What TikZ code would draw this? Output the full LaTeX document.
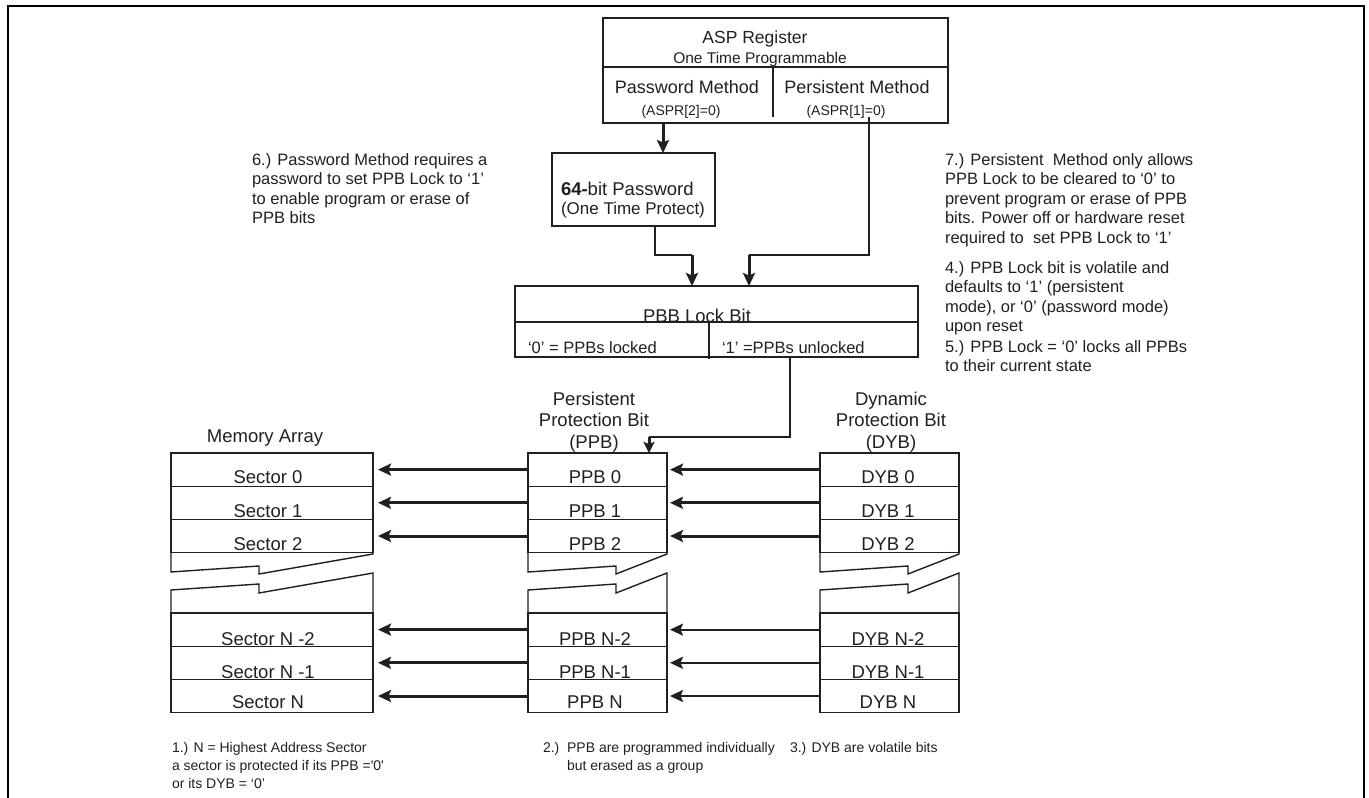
\documentclass[tikz,border=0pt]{standalone}
\usepackage{fontspec}
\newfontfamily\af{Liberation Sans}
\usetikzlibrary{arrows.meta}
\definecolor{ink}{HTML}{231F20}
\begin{document}
\begin{tikzpicture}[x=1pt,y=-1pt,
  every node/.style={inner sep=0pt, outer sep=0pt, text=ink},
  box/.style={draw=ink, line width=1.4pt, rectangle},
  cell/.style={box, minimum height=33.2pt},
  memcell/.style={cell, minimum width=202pt},
  bitcell/.style={cell, minimum width=139pt},
  ln/.style={draw=ink, line width=1.3pt},
  brk/.style={draw=ink, line width=1.4pt},
  arr/.style={draw=ink, line width=3pt, -{Stealth[length=13pt,width=12pt,inset=2.5pt]}},
  arrt/.style={draw=ink, line width=2.2pt, -{Stealth[length=13pt,width=12pt,inset=2.5pt]}},
  arrs/.style={draw=ink, line width=3pt, -{Stealth[length=11pt,width=11pt,inset=2pt]}},
  lbl/.style={anchor=base},
  f185/.style={font=\af\fontsize{18.5}{22}\selectfont},
  hdr/.style={font=\af\fontsize{18.5}{21.5}\selectfont},
  f18/.style={font=\af\fontsize{18}{21}\selectfont},
  f175/.style={font=\af\fontsize{17.5}{21}\selectfont},
  f17/.style={font=\af\fontsize{17}{20}\selectfont},
  f165/.style={font=\af\fontsize{16.5}{19.5}\selectfont},
  f155/.style={font=\af\fontsize{15.5}{18}\selectfont},
  f14/.style={font=\af\fontsize{14}{18}\selectfont},
  note/.style={f165, anchor=base west, align=left},
  bnote/.style={f14, anchor=base west, align=left}
]
\useasboundingbox (0,0) rectangle (1369,798);
% outer frame
\draw[black, line width=2.5pt] (8,798) -- (8,6) -- (1364,6) -- (1364,798);

% ASP register
\node[box, minimum width=345pt, minimum height=105pt] (asp) at (775.5,70.5) {};
\draw[ln] (603,67) -- (948,67);
\draw[ln] (773,67) -- (773,117);
\node[f175, lbl] (aspT) at (755,43) {ASP Register};
\node[f155, lbl] (aspS) at (760,63) {One Time Programmable};
\node[f18, lbl] (pwm) at (687,93) {Password Method};
\node[f14, lbl] (pwa) at (681,115) {(ASPR[2]=0)};
\node[f18, lbl] (psm) at (857,93) {Persistent Method};
\node[f14, lbl] (psa) at (846,115) {(ASPR[1]=0)};

% password box
\node[box, minimum width=163pt, minimum height=73pt] (pw) at (633.5,189.5) {};
\node[f185, anchor=base west] (pwt1) at (561,195) {{\bfseries 64-}bit Password};
\node[f17, anchor=base west] (pwt2) at (561,214) {(One Time Protect)};

% PPB lock box
\node[box, minimum width=403pt, minimum height=71pt] (lk) at (716.5,321.5) {};
\draw[ln] (515,322) -- (918,322);
\draw[ln] (709,322) -- (709,359);
\node[f185, lbl] (lkt) at (697,322) {PBB Lock Bit};
\node[f165, anchor=base west] (lk0) at (528,353) {‘0’ = PPBs locked};
\node[f165, anchor=base west] (lk1) at (722,353) {‘1’ =PPBs unlocked};

% connectors at top
\coordinate (m1) at (692,255);
\coordinate (m2) at (749,255);
\draw[arr] ([xshift=-112.5pt]asp.south) -- ([xshift=29.5pt]pw.north);
\draw[ln] ([xshift=21.5pt]pw.south) |- (m1);
\draw[arr] (m1) -- ([xshift=-24.5pt]lk.north);
\draw[ln] ([xshift=93.5pt,yshift=6pt]asp.south) |- (m2);
\draw[arr] (m2) -- ([xshift=32.5pt]lk.north);

% column headers (base anchor = last line)
\node[f185, lbl] (memh) at (265,442) {Memory Array};
\node[hdr, anchor=base, align=center] (ppbh) at (594,448) {Persistent\\Protection Bit\\(PPB)};
\node[hdr, anchor=base, align=center] (dybh) at (891,448) {Dynamic\\Protection Bit\\(DYB)};

% memory cells
\node[memcell] (s0) at (272,469.6) {};
\node[memcell] (s1) at (272,502.8) {};
\node[memcell] (s2) at (272,536.0) {};
\node[memcell] (s3) at (272,629.6) {};
\node[memcell] (s4) at (272,662.8) {};
\node[memcell] (s5) at (272,696.0) {};
% PPB cells
\node[bitcell] (p0) at (597.5,469.6) {};
\node[bitcell] (p1) at (597.5,502.8) {};
\node[bitcell] (p2) at (597.5,536.0) {};
\node[bitcell] (p3) at (597.5,629.6) {};
\node[bitcell] (p4) at (597.5,662.8) {};
\node[bitcell] (p5) at (597.5,696.0) {};
% DYB cells
\node[bitcell] (d0) at (889.5,469.6) {};
\node[bitcell] (d1) at (889.5,502.8) {};
\node[bitcell] (d2) at (889.5,536.0) {};
\node[bitcell] (d3) at (889.5,629.6) {};
\node[bitcell] (d4) at (889.5,662.8) {};
\node[bitcell] (d5) at (889.5,696.0) {};

% breaks
\foreach \L/\R in {171/373, 528/667, 820/959} {
  \draw[brk] (\L,552.6) -- (\L,572) -- ({\L+88},566) -- ({\L+88},574) -- (\R,554) -- (\R,552.6);
  \draw[brk] (\L,613) -- (\L,590) -- ({\L+88},584) -- ({\L+88},593) -- (\R,573) -- (\R,613);
}

% cell texts
\foreach \y/\s/\p/\d in {483/Sector 0/PPB 0/DYB 0, 517/Sector 1/PPB 1/DYB 1, 550/Sector 2/PPB 2/DYB 2,
  645/Sector N -2/PPB N-2/DYB N-2, 678/Sector N -1/PPB N-1/DYB N-1, 708/Sector N/PPB N/DYB N} {
  \node[f185, lbl] at (268,\y) {\s};
  \node[f185, lbl] at (595,\y) {\p};
  \node[f185, lbl] at (888,\y) {\d};
}

% lock to PPB
\coordinate (m3) at (790,437);
\coordinate (m4) at (649,437);
\draw[ln] ([xshift=73.5pt]lk.south) -- (m3) -- (m4);
\draw[arrs] (m4) -- ([xshift=51.5pt]p0.north);

% horizontal arrows
\foreach \i in {0,...,5} {
  \draw[arr, shorten >=5pt] (p\i.west) -- (s\i.east);
}
\foreach \i in {0,1,2} {
  \draw[arr, shorten >=3pt] (d\i.west) -- (p\i.east);
}
\foreach \i in {3,4,5} {
  \draw[arrt, shorten >=3pt] (d\i.west) -- (p\i.east);
}

% notes (base anchor = baseline of last line)
\node[note] (n6) at (252,223.5) {6.) Password Method requires a\\password to set PPB Lock to ‘1’\\to enable program or erase of\\PPB bits};
\node[note] (n7) at (945,243) {7.) Persistent\ \ Method only allows\\PPB Lock to be cleared to ‘0’ to\\prevent program or erase of PPB\\bits. Power off or hardware reset\\required to\ \ set PPB Lock to ‘1’};
\node[note] (n4) at (945,331.5) {4.) PPB Lock bit is volatile and\\defaults to ‘1’ (persistent\\mode), or ‘0’ (password mode)\\upon reset};
\node[note] (n5) at (945,371.5) {5.) PPB Lock = ‘0’ locks all PPBs\\to their current state};
\node[bnote] (n1) at (172,788) {1.) N = Highest Address Sector\\a sector is protected if its PPB ='0'\\or its DYB = ‘0’};
\node[bnote] (n2) at (543,770) {2.)\ \ PPB are programmed individually\\\hphantom{2.)\ \ }but erased as a group};
\node[bnote] (n3) at (790,752) {3.) DYB are volatile bits};
\end{tikzpicture}
\end{document}
